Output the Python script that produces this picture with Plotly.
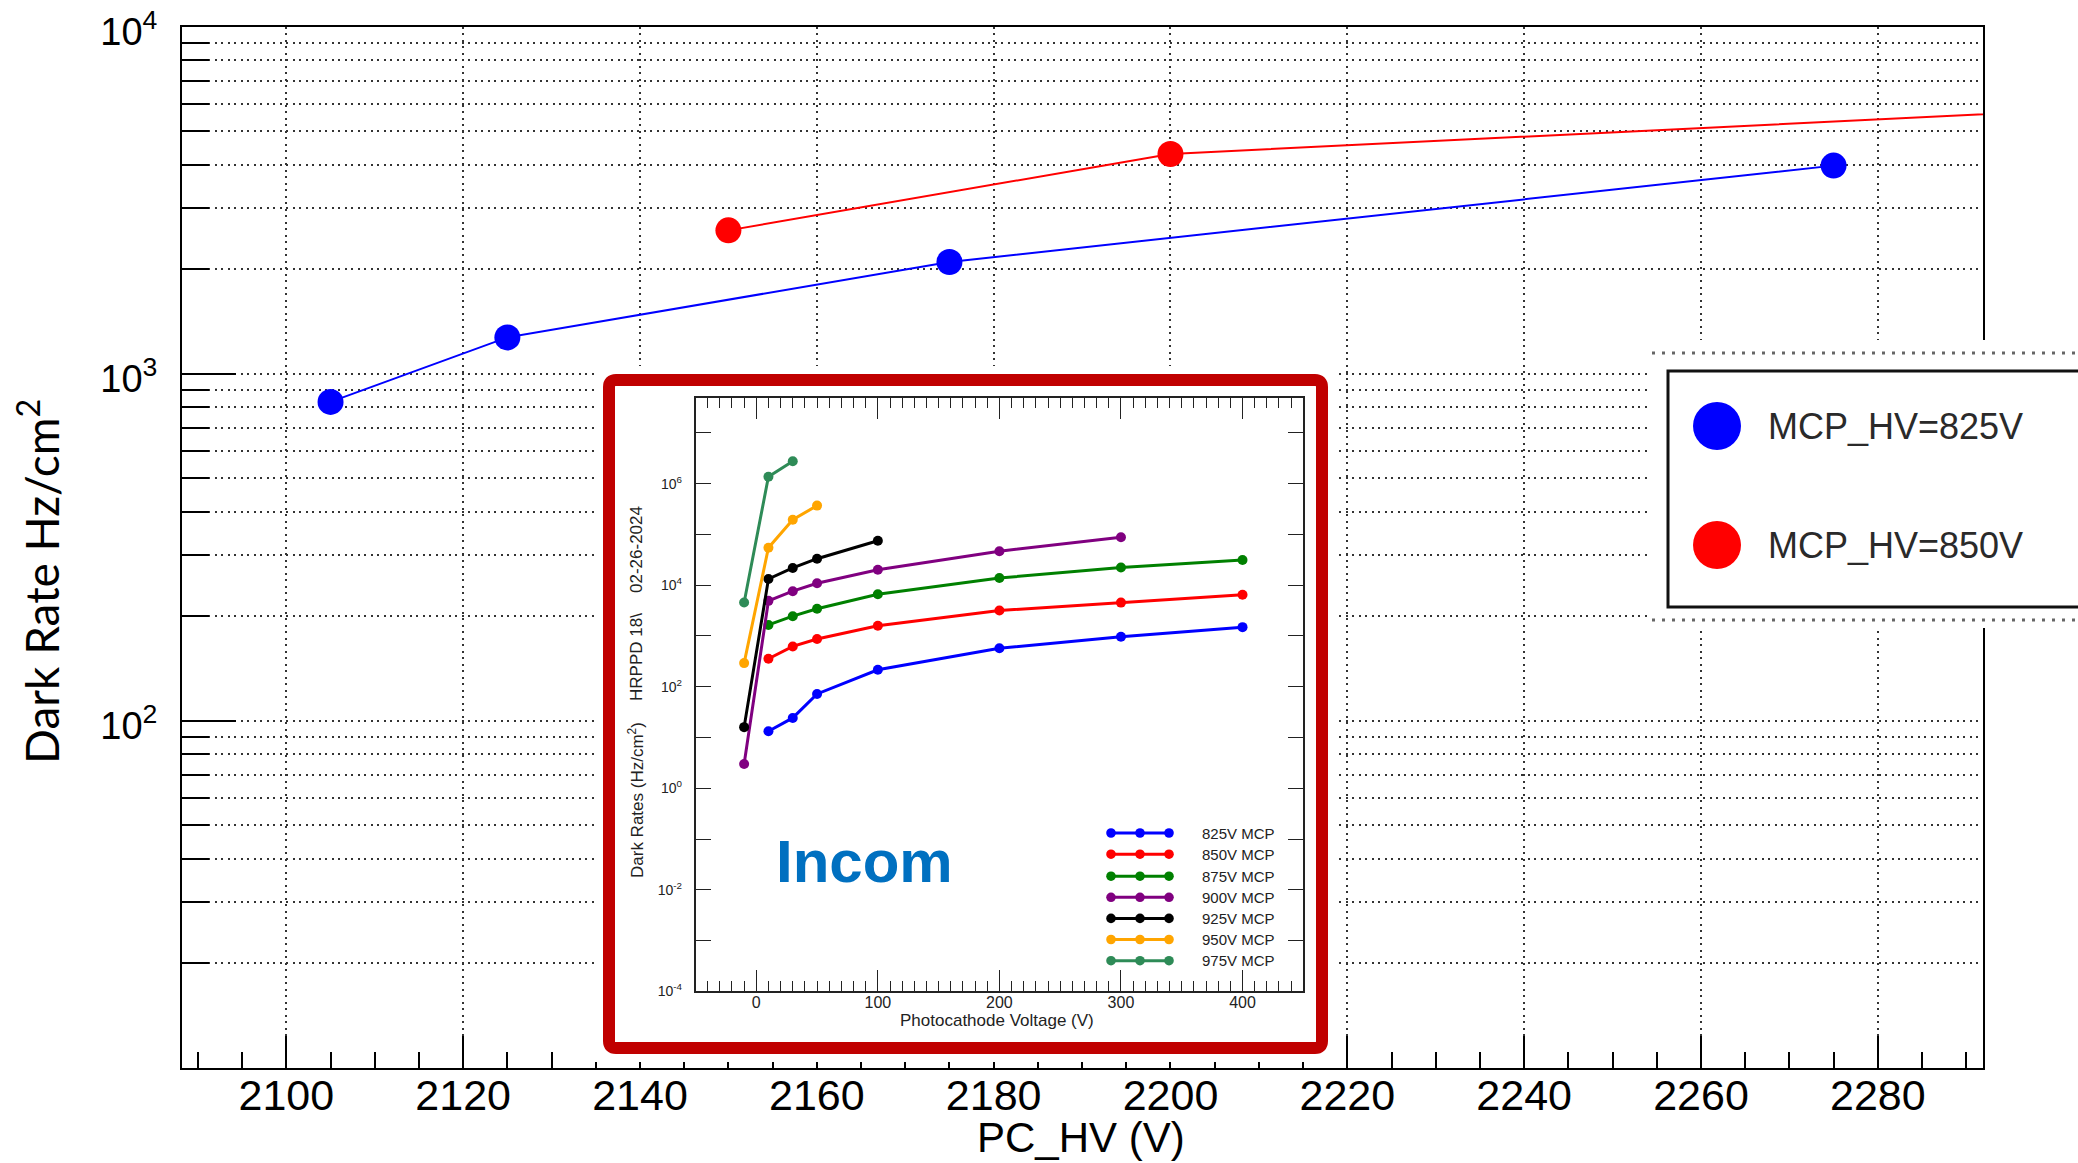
import plotly.graph_objects as go

W, H = 2078, 1163

# ---------------- main chart data ----------------
pc_hv_825 = [2105, 2125, 2175, 2275]
rate_825 = [830, 1273, 2100, 3980]
pc_hv_850 = [2150, 2200, 2300]
rate_850 = [2590, 4300, 5730]
main_names = ["MCP_HV=825V", "MCP_HV=850V"]

y_major = [100, 1000, 10000]
y_major_text = ["10<sup>2</sup>", "10<sup>3</sup>", "10<sup>4</sup>"]
y_minor = [20, 30, 40, 50, 60, 70, 80, 90,
           200, 300, 400, 500, 600, 700, 800, 900,
           2000, 3000, 4000, 5000, 6000, 7000, 8000, 9000]

# ---------------- inset data (Incom, HRPPD 18) ----------------
inset_v_825 = [10, 30, 50, 100, 200, 300, 400]
inset_rate_825 = [13.3, 24.3, 72, 216, 574, 963, 1492]
inset_v_850 = [10, 30, 50, 100, 200, 300, 400]
inset_rate_850 = [356, 622, 871, 1585, 3177, 4546, 6506]
inset_v_875 = [10, 30, 50, 100, 200, 300, 400]
inset_rate_875 = [1648, 2455, 3443, 6637, 13870, 22350, 31350]
inset_v_900 = [-10, 10, 30, 50, 100, 200, 300]
inset_rate_900 = [3.0, 4923, 7628, 10910, 20230, 46690, 88230]
inset_v_925 = [-10, 10, 30, 50, 100]
inset_rate_925 = [16, 13300, 21900, 33270, 75200]
inset_v_950 = [-10, 10, 30, 50]
inset_rate_950 = [292, 54700, 195400, 369800]
inset_v_975 = [-10, 10, 30]
inset_rate_975 = [4550, 1.375e6, 2.76e6]
inset_names = ["825V MCP", "850V MCP", "875V MCP", "900V MCP",
               "925V MCP", "950V MCP", "975V MCP"]
inset_colors = ["#0000FF", "#FF0000", "#008000", "#800080",
                "#000000", "#FFA500", "#2E8B57"]
inset_y_major = [1e-4, 1e-2, 1, 100, 1e4, 1e6]
inset_y_text = ["10<sup>-4</sup>", "10<sup>-2</sup>", "10<sup>0</sup>",
                "10<sup>2</sup>", "10<sup>4</sup>", "10<sup>6</sup>"]
inset_y_minor = [1e-3, 1e-1, 10, 1e3, 1e5, 1e7]


def fx(px):
    return px / W


def fy(py):
    return 1 - py / H


fig = go.Figure()

# main traces
fig.add_trace(go.Scatter(x=pc_hv_825, y=rate_825, mode="lines+markers", name=main_names[0],
                         line=dict(color="#0000FF", width=2),
                         marker=dict(color="#0000FF", size=26), xaxis="x", yaxis="y"))
fig.add_trace(go.Scatter(x=pc_hv_850, y=rate_850, mode="lines+markers", name=main_names[1],
                         line=dict(color="#FF0000", width=2),
                         marker=dict(color="#FF0000", size=26), xaxis="x", yaxis="y"))

# empty trace to create the inset "canvas" subplot (white card with red frame)
fig.add_trace(go.Scatter(x=[], y=[], xaxis="x2", yaxis="y2", hoverinfo="skip"))

# inset traces
inset_x = [inset_v_825, inset_v_850, inset_v_875, inset_v_900, inset_v_925, inset_v_950, inset_v_975]
inset_y = [inset_rate_825, inset_rate_850, inset_rate_875, inset_rate_900,
           inset_rate_925, inset_rate_950, inset_rate_975]
for xs, ys, nm, col in zip(inset_x, inset_y, inset_names, inset_colors):
    fig.add_trace(go.Scatter(x=xs, y=ys, mode="lines+markers", name=nm,
                             line=dict(color=col, width=3),
                             marker=dict(color=col, size=10), xaxis="x3", yaxis="y3"))

grid_col = "#333333"
grid_dash = "2px,4.5px"
main_font = "Liberation Sans, Arial, Helvetica, sans-serif"

shapes = []
annotations = []

# ---- inset card (in x2/y2 pixel-like coordinates, drawn above main plot) ----
x0, x1, y0, y1, r = 609, 1322, 380, 1048, 7
card_path = (f"M {x0+r},{y0} L {x1-r},{y0} Q {x1},{y0} {x1},{y0+r} L {x1},{y1-r} "
             f"Q {x1},{y1} {x1-r},{y1} L {x0+r},{y1} Q {x0},{y1} {x0},{y1-r} "
             f"L {x0},{y0+r} Q {x0},{y0} {x0+r},{y0} Z")
shapes.append(dict(type="path", path=card_path, xref="x2", yref="y2", layer="below",
                   fillcolor="white", line=dict(color="#C00000", width=12)))
# yellow Incom box
shapes.append(dict(type="rect", xref="x2", yref="y2", layer="below",
                   x0=743.5, x1=986.5, y0=817, y1=911.5,
                   fillcolor="#FFFF00", line=dict(width=0)))
# red spell-check squiggle
pts = []
xx = 773.0
k = 0
while xx <= 965:
    pts.append(f"{xx:.1f},{893 + (2.2 if k % 2 else -2.2):.1f}")
    xx += 3.2
    k += 1
shapes.append(dict(type="path", xref="x2", yref="y2", layer="below",
                   path="M " + " L ".join(pts), line=dict(color="#E00000", width=1.5)))

annotations.append(dict(text="<b>Incom</b>", xref="paper", yref="paper",
                        x=fx(864.5), y=fy(862), xanchor="center", yanchor="middle",
                        showarrow=False, font=dict(family=main_font, size=60, color="#0070C0")))

# inset legend (decoration)
leg_rows = [833, 854.2, 876.2, 897.3, 918.4, 939.5, 960.7]
for row, nm, col in zip(leg_rows, inset_names, inset_colors):
    shapes.append(dict(type="line", xref="paper", yref="paper", layer="above",
                       x0=fx(1111), x1=fx(1169), y0=fy(row), y1=fy(row),
                       line=dict(color=col, width=3)))
    for cx in (1111, 1140, 1169):
        shapes.append(dict(type="circle", xref="paper", yref="paper", layer="above",
                           x0=fx(cx - 4.8), x1=fx(cx + 4.8), y0=fy(row + 4.8), y1=fy(row - 4.8),
                           fillcolor=col, line=dict(width=0)))
    annotations.append(dict(text=nm, xref="paper", yref="paper", x=fx(1200), y=fy(row),
                            xanchor="left", yanchor="middle", showarrow=False,
                            font=dict(family=main_font, size=15, color="#222222")))

# inset axis titles
inset_font = dict(family=main_font, size=17, color="#222222")
annotations.append(dict(text="Photocathode Voltage (V)", xref="paper", yref="paper",
                        x=fx(996.6), y=fy(1020), xanchor="center", yanchor="middle",
                        showarrow=False, font=inset_font))
for txt, cy in (("Dark Rates (Hz/cm<sup>2</sup>)", 800), ("HRPPD 18\\", 657), ("02-26-2024", 550)):
    annotations.append(dict(text=txt, xref="paper", yref="paper", x=fx(636), y=fy(cy),
                            xanchor="center", yanchor="middle", textangle=-90,
                            showarrow=False, font=inset_font))

# ---- main legend (pasted box at right) ----
shapes.append(dict(type="rect", xref="paper", yref="paper", layer="above",
                   x0=fx(1648), x1=fx(2090), y0=fy(628), y1=fy(340),
                   fillcolor="white", line=dict(width=0)))
for yy in (353, 620):
    shapes.append(dict(type="line", xref="paper", yref="paper", layer="above",
                       x0=fx(1652), x1=fx(2078), y0=fy(yy), y1=fy(yy),
                       line=dict(color="#666666", width=3, dash="3px,7px")))
shapes.append(dict(type="rect", xref="paper", yref="paper", layer="above",
                   x0=fx(1668), x1=fx(2095), y0=fy(607), y1=fy(371),
                   fillcolor="white", line=dict(color="#111111", width=3)))
for cy, col, nm in ((426, "#0000FF", main_names[0]), (545, "#FF0000", main_names[1])):
    shapes.append(dict(type="circle", xref="paper", yref="paper", layer="above",
                       x0=fx(1693), x1=fx(1741), y0=fy(cy + 24), y1=fy(cy - 24),
                       fillcolor=col, line=dict(width=0)))
    annotations.append(dict(text=nm, xref="paper", yref="paper", x=fx(1766), y=fy(cy),
                            xanchor="left", yanchor="middle", showarrow=False,
                            font=dict(family=main_font, size=36, color="#2a2a2a")))

# main axis titles
annotations.append(dict(text="PC_HV (V)", xref="paper", yref="paper", x=fx(1081), y=fy(1137),
                        xanchor="center", yanchor="middle", showarrow=False,
                        font=dict(family=main_font, size=42, color="black")))
annotations.append(dict(text="Dark Rate Hz/cm<sup>2</sup>", xref="paper", yref="paper",
                        x=fx(38), y=fy(582), xanchor="center", yanchor="middle",
                        textangle=-90, showarrow=False,
                        font=dict(family="Lato, Open Sans, sans-serif", size=46, color="black")))

fig.update_layout(
    width=W, height=H,
    margin=dict(l=0, r=0, t=0, b=0, autoexpand=False),
    paper_bgcolor="white", plot_bgcolor="white",
    showlegend=False,
    shapes=shapes, annotations=annotations,
    xaxis=dict(domain=[fx(182), fx(1983)], range=[2088.2, 2291.9], anchor="y",
               automargin=False,
               tickmode="linear", tick0=2100, dtick=20,
               ticks="inside", ticklen=32, tickwidth=2, tickcolor="black",
               showline=True, linecolor="black", linewidth=2, mirror=True,
               showgrid=True, gridcolor=grid_col, griddash=grid_dash, gridwidth=1.5,
               zeroline=False, ticklabelstandoff=-12,
               tickfont=dict(family=main_font, size=43, color="black"),
               minor=dict(tick0=2100, dtick=5, ticks="inside", ticklen=16,
                          tickwidth=1.5, tickcolor="black", showgrid=False)),
    yaxis=dict(type="log", domain=[fy(1068), fy(26.5)], range=[0.9995, 4.0008], anchor="x",
               automargin=False,
               tickmode="array", tickvals=y_major, ticktext=y_major_text,
               ticks="inside", ticklen=54, tickwidth=2, tickcolor="black",
               showline=True, linecolor="black", linewidth=2, mirror=True,
               showgrid=True, gridcolor=grid_col, griddash=grid_dash, gridwidth=1.5,
               zeroline=False, ticklabelstandoff=15, ticklabelshift=5,
               tickfont=dict(family=main_font, size=38, color="black"),
               minor=dict(tickmode="array", tickvals=y_minor, ticks="inside", ticklen=27,
                          tickwidth=2, tickcolor="black", showgrid=True,
                          gridcolor=grid_col, griddash=grid_dash, gridwidth=1.5)),
    xaxis2=dict(domain=[fx(595), fx(1336)], range=[595, 1336], anchor="y2",
                automargin=False, visible=False, showgrid=False, zeroline=False),
    yaxis2=dict(domain=[fy(1062), fy(366)], range=[1062, 366], anchor="x2",
                automargin=False, visible=False, showgrid=False, zeroline=False),
    xaxis3=dict(domain=[fx(695.5), fx(1303.3)], range=[-50, 450], anchor="y3",
                automargin=False,
                tickmode="linear", tick0=0, dtick=100,
                ticks="inside", ticklen=22, tickwidth=1.2, tickcolor="#222222",
                showline=True, linecolor="#222222", linewidth=1.5, mirror="allticks",
                showgrid=False, zeroline=False, ticklabelstandoff=-4,
                tickfont=dict(family=main_font, size=16, color="#222222"),
                minor=dict(tick0=0, dtick=10, ticks="inside", ticklen=11,
                           tickwidth=1.2, tickcolor="#222222", showgrid=False)),
    yaxis3=dict(type="log", domain=[fy(991.3), fy(397.6)], range=[-4, 7.696], anchor="x3",
                automargin=False,
                tickmode="array", tickvals=inset_y_major, ticktext=inset_y_text,
                ticks="inside", ticklen=16, tickwidth=1.2, tickcolor="#222222",
                showline=True, linecolor="#222222", linewidth=1.5, mirror="allticks",
                showgrid=False, zeroline=False, ticklabelstandoff=9,
                tickfont=dict(family=main_font, size=14, color="#222222"),
                minor=dict(tickmode="array", tickvals=inset_y_minor, ticks="inside",
                           ticklen=16, tickwidth=1.2, tickcolor="#222222", showgrid=False)),
)

fig.write_html("out.html", config={"displayModeBar": False},
               post_script="document.body.style.margin='0';")
